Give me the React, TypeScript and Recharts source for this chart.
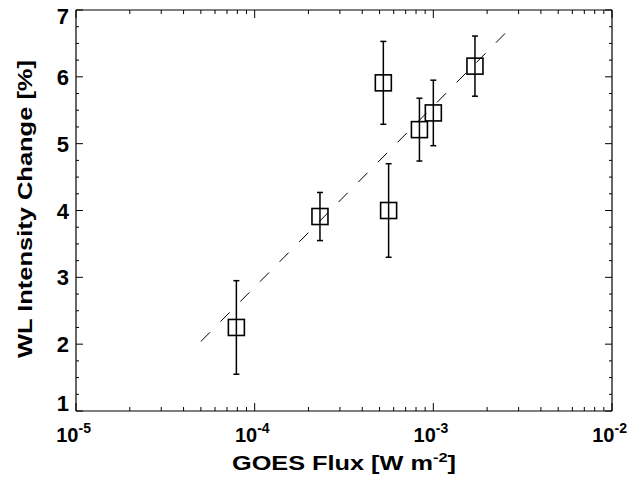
import { ScatterChart, Scatter, XAxis, YAxis, ErrorBar } from 'recharts'

// measured points
const fluxValues = [7.9e-5, 2.32e-4, 5.25e-4, 5.62e-4, 8.36e-4, 1.0e-3, 1.71e-3]
const intensityChange = [2.25, 3.91, 5.91, 4.0, 5.21, 5.46, 6.16]
const intensityError = [0.7, 0.36, 0.62, 0.7, 0.47, 0.49, 0.45]

// dashed fit line end points
const fitFlux = [5e-5, 2.7e-3]
const fitChange = [2.04, 6.73]

// axis ticks
const xDecades = [1e-5, 1e-4, 1e-3, 1e-2]
const xDecadeLabels = ['-5', '-4', '-3', '-2']
const xMinorMultipliers = [2, 3, 4, 5, 6, 7, 8, 9]
const yMajorTicks = [1, 2, 3, 4, 5, 6, 7]
const yMinorOffsets = [0.25, 0.5, 0.75]

const points = fluxValues.map((f, i) => ({ flux: f, change: intensityChange[i], err: intensityError[i] }))
const fitLine = fitFlux.map((f, i) => ({ flux: f, change: fitChange[i] }))

const xTicks = [
  ...xDecades.slice(0, -1).flatMap((d) => [d, ...xMinorMultipliers.map((m) => d * m)]),
  xDecades[xDecades.length - 1],
]
const yTicks = [
  ...yMajorTicks.slice(0, -1).flatMap((t) => [t, ...yMinorOffsets.map((o) => t + o)]),
  yMajorTicks[yMajorTicks.length - 1],
]

const font = '"Liberation Sans", Arial, Helvetica, sans-serif'

const isDecade = (v: number) => Math.abs(Math.log10(v) - Math.round(Math.log10(v))) < 1e-6

function XTick(props: any) {
  const { x, y, payload, side } = props
  const v = payload.value
  const major = isDecade(v)
  const len = major ? 8 : 4
  const dir = side === 'bottom' ? -1 : 1
  const idx = xDecades.findIndex((d) => Math.abs(d - v) / d < 1e-6)
  return (
    <g>
      <line x1={x} x2={x} y1={y} y2={y + dir * len} stroke="#000" strokeWidth={1} />
      {side === 'bottom' && major && idx >= 0 && (
        <g fontFamily={font} fontWeight="bold" fill="#000">
          <text x={x + 2.5} y={y + 31} textAnchor="end" fontSize={20}>
            10
          </text>
          <text x={x + 2.5} y={y + 22} textAnchor="start" fontSize={14}>
            {xDecadeLabels[idx]}
          </text>
        </g>
      )}
    </g>
  )
}

function YTick(props: any) {
  const { x, y, payload, side } = props
  const v = payload.value
  const major = Math.abs(v - Math.round(v)) < 1e-6
  const len = major ? 7 : 3
  const dir = side === 'left' ? 1 : -1
  let dy = 8
  if (v === 7) dy = 14
  if (v === 1) dy = 0
  return (
    <g>
      <line x1={x} x2={x + dir * len} y1={y} y2={y} stroke="#000" strokeWidth={1} />
      {side === 'left' && major && (
        <text x={x - 7} y={y + dy} textAnchor="end" fontFamily={font} fontWeight="bold" fontSize={22} fill="#000">
          {v}
        </text>
      )}
    </g>
  )
}

const Square = (props: any) => {
  const { cx, cy } = props
  return <rect x={cx - 8} y={cy - 8} width={16} height={16} fill="none" stroke="#000" strokeWidth={1.6} />
}

export default function App() {
  return (
    <div style={{ position: 'absolute', left: 0, top: 0, width: 636, height: 482, background: '#fff' }}>
      <ScatterChart width={636} height={482} margin={{ top: 9, right: 23, bottom: 31, left: 16 }}>
        <XAxis
          xAxisId="b"
          dataKey="flux"
          type="number"
          scale="log"
          domain={[1e-5, 1e-2]}
          ticks={xTicks}
          interval={0}
          allowDataOverflow
          height={40}
          tickSize={0}
          tickMargin={0}
          tickLine={false}
          axisLine={{ stroke: '#000', strokeWidth: 1.2 }}
          tick={<XTick side="bottom" />}
        />
        <XAxis
          xAxisId="t"
          orientation="top"
          dataKey="flux"
          type="number"
          scale="log"
          domain={[1e-5, 1e-2]}
          ticks={xTicks}
          interval={0}
          allowDataOverflow
          height={1}
          tickSize={0}
          tickMargin={0}
          tickLine={false}
          axisLine={{ stroke: '#000', strokeWidth: 1.2 }}
          tick={<XTick side="top" />}
        />
        <YAxis
          yAxisId="l"
          dataKey="change"
          type="number"
          domain={[1, 7]}
          ticks={yTicks}
          interval={0}
          allowDataOverflow
          width={60}
          tickSize={0}
          tickMargin={0}
          tickLine={false}
          axisLine={{ stroke: '#000', strokeWidth: 1.2 }}
          tick={<YTick side="left" />}
        />
        <YAxis
          yAxisId="r"
          orientation="right"
          dataKey="change"
          type="number"
          domain={[1, 7]}
          ticks={yTicks}
          interval={0}
          allowDataOverflow
          width={1}
          tickSize={0}
          tickMargin={0}
          tickLine={false}
          axisLine={{ stroke: '#000', strokeWidth: 1.2 }}
          tick={<YTick side="right" />}
        />
        <Scatter
          data={fitLine}
          xAxisId="b"
          yAxisId="l"
          line={{ stroke: '#000', strokeWidth: 1, strokeDasharray: '13 15' }}
          shape={() => <g />}
          isAnimationActive={false}
        />
        <Scatter data={points} xAxisId="b" yAxisId="l" shape={<Square />} isAnimationActive={false}>
          <ErrorBar dataKey="err" direction="y" width={3} stroke="#000" strokeWidth={1.5} isAnimationActive={false} />
        </Scatter>
      </ScatterChart>
      <svg width={636} height={482} style={{ position: 'absolute', left: 0, top: 0, pointerEvents: 'none' }}>
        <text
          x={344}
          y={470}
          textAnchor="middle"
          textLength={224}
          lengthAdjust="spacingAndGlyphs"
          fontFamily={font}
          fontWeight="bold"
          fontSize={20}
          fill="#000"
        >
          GOES Flux [W m<tspan dy={-8} fontSize={13}>-2</tspan>
          <tspan dy={8}>]</tspan>
        </text>
        <text
          x={32}
          y={209}
          transform="rotate(-90, 32, 209)"
          textAnchor="middle"
          textLength={298}
          lengthAdjust="spacingAndGlyphs"
          fontFamily={font}
          fontWeight="bold"
          fontSize={20}
          fill="#000"
        >
          WL Intensity Change [%]
        </text>
      </svg>
    </div>
  )
}
